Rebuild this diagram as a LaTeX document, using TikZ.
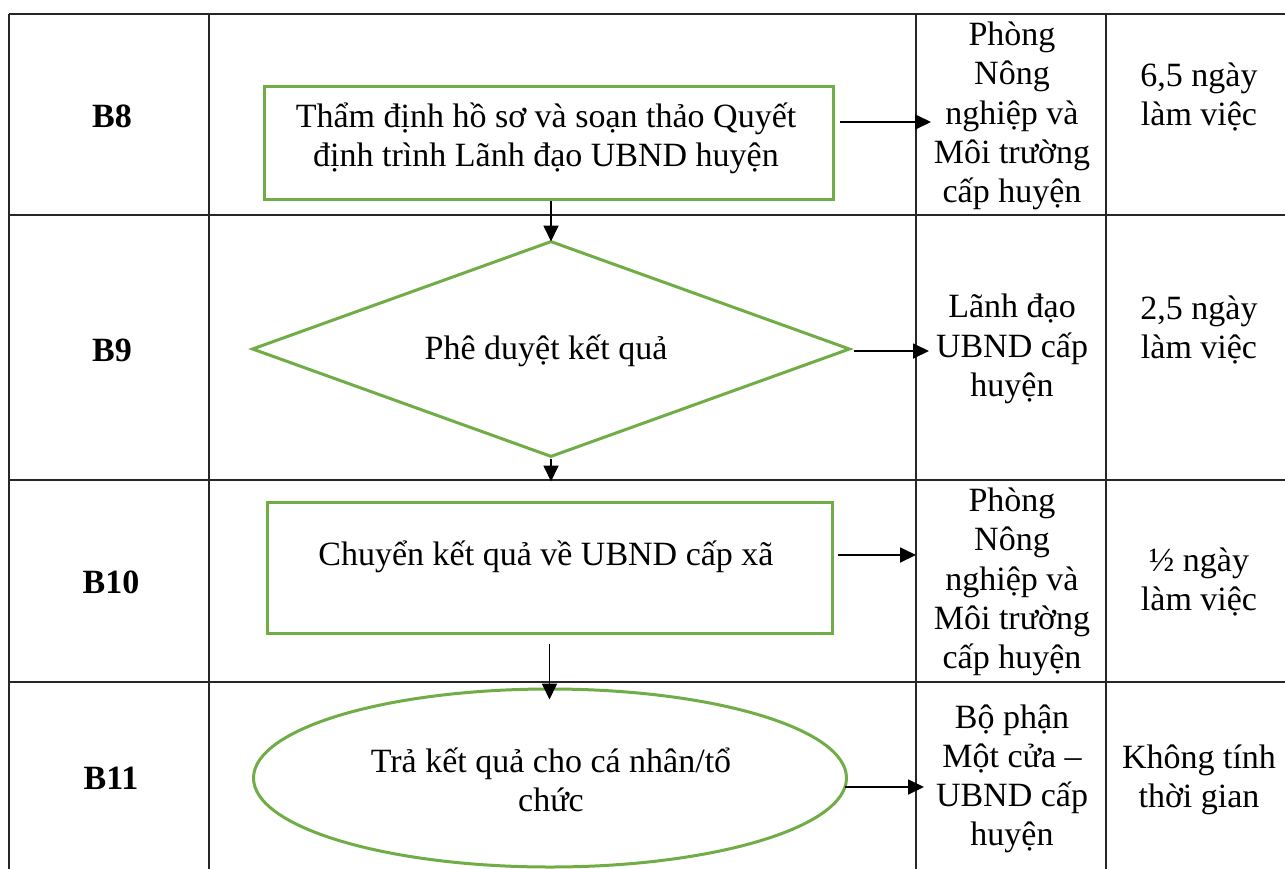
\documentclass[tikz,border=0pt]{standalone}
\usepackage{fontspec}
\setmainfont{Liberation Serif}
\usetikzlibrary{shapes.geometric,arrows.meta}
\definecolor{flowgreen}{HTML}{70AD47}
\begin{document}
\begin{tikzpicture}[x=1pt,y=-1pt,
  grid/.style={draw=black!85,line width=1.6pt},
  shapeline/.style={draw=flowgreen,line width=3pt,inner sep=0pt},
  flow/.style={-{Triangle[length=16pt,width=15pt]},line width=1.8pt},
  txt/.style={font=\fontsize{34}{39.2}\selectfont,align=center,inner sep=0pt},
  lbl/.style={font=\fontsize{34}{39.2}\selectfont\bfseries,inner sep=0pt}]
\clip (0,0) rectangle (1285,868);
\fill[white] (0,0) rectangle (1285,868);

% table frame
\draw[grid] (9,14) -- (1300,14);
\draw[grid] (9,215) -- (1300,215);
\draw[grid] (9,480) -- (1300,480);
\draw[grid] (9,682) -- (1300,682);
\foreach \cx in {9,209,916,1106,1292} \draw[grid] (\cx,14) -- (\cx,890);

% step labels
\node[lbl] (s8)  at (112,116) {B8};
\node[lbl] (s9)  at (112,350) {B9};
\node[lbl] (s10) at (111,582) {B10};
\node[lbl] (s11) at (111,778) {B11};

% flow shapes
\node[shapeline,rectangle,minimum width=569pt,minimum height=113pt] (b8) at (548.5,142.5) {};
\node[txt] (b8t) at (546,138) {Thẩm định hồ sơ và soạn thảo Quyết\\định trình Lãnh đạo UBND huyện};

\node[shapeline,diamond,minimum width=598pt,minimum height=216pt] (b9) at (551,349) {};
\node[txt] (b9t) at (546,351) {Phê duyệt kết quả};

\node[shapeline,rectangle,minimum width=565pt,minimum height=131pt] (b10) at (549.5,567.5) {};
\node[txt] (b10t) at (546,557) {Chuyển kết quả về UBND cấp xã};

\node[shapeline,ellipse,minimum width=593pt,minimum height=178pt] (b11) at (550,778) {};
\node[txt] (b11t) at (551,780) {Trả kết quả cho cá nhân/tổ\\chức};

% responsible units
\node[txt] (u8)  at (1012,116) {Phòng\\Nông\\nghiệp và\\Môi trường\\cấp huyện};
\node[txt] (u9)  at (1012,349) {Lãnh đạo\\UBND cấp\\huyện};
\node[txt] (u10) at (1012,582) {Phòng\\Nông\\nghiệp và\\Môi trường\\cấp huyện};
\node[txt] (u11) at (1012,779) {Bộ phận\\Một cửa –\\UBND cấp\\huyện};

% durations
\node[txt] (d8)  at (1199,97)  {6,5 ngày\\làm việc};
\node[txt] (d9)  at (1199,330) {2,5 ngày\\làm việc};
\node[txt] (d10) at (1199,582) {½ ngày\\làm việc};
\node[txt] (d11) at (1199,780) {Không tính\\thời gian};

% arrow tips towards the unit column
\coordinate (a8)  at (931,122);
\coordinate (a9)  at (929,351);
\coordinate (a10) at (916,555);
\coordinate (a11) at (924,787);

% vertical connectors
\draw[flow,shorten >=-2pt] (b9.north |- b8.south) -- (b9.north);
\draw[flow,shorten >=19pt] (b9.south) -- (b9.south |- b10.north);
\draw[flow,shorten <=9pt,shorten >=-12pt] (b10.south) -- (b10.south |- b11.north);

% horizontal connectors
\draw[flow,shorten <=5pt] (b8.east |- a8) -- (a8);
\draw[flow,shorten <=2pt] (b9.east |- a9) -- (a9);
\draw[flow,shorten <=4pt] (b10.east |- a10) -- (a10);
\draw[flow] (845,787) -- (a11);
\end{tikzpicture}
\end{document}
